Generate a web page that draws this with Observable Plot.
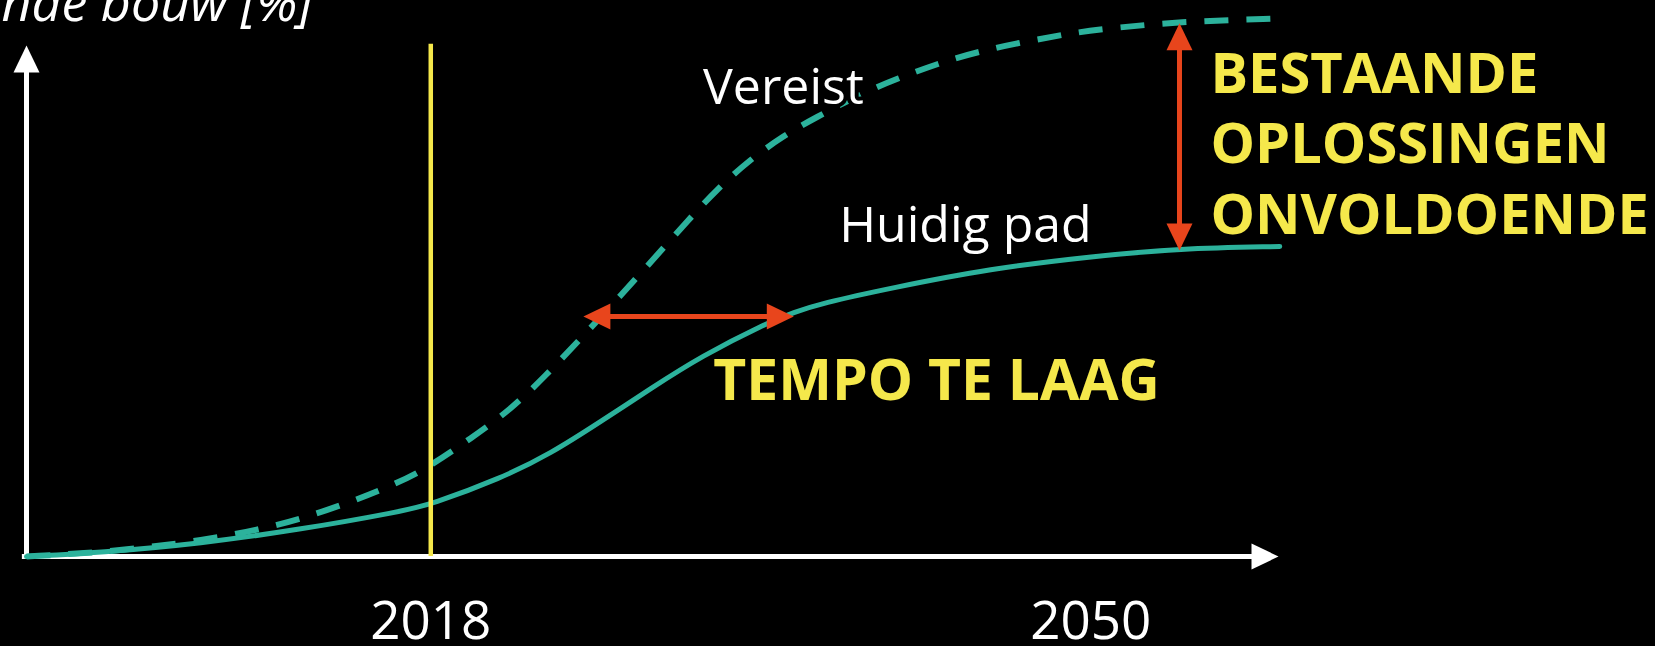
<!DOCTYPE html>
<html>
<head>
<meta charset="utf-8">
<script src="https://cdn.jsdelivr.net/npm/d3@7"></script>
<script src="https://cdn.jsdelivr.net/npm/@observablehq/plot@0.6"></script>
<style>
  html, body { margin: 0; padding: 0; background: #000; overflow: hidden; }
  #chart svg { display: block; }
</style>
</head>
<body>
<div id="chart"></div>
<script>
// ---- data ----
const huidigYears = [1998.4, 2002.0, 2006.85, 2011.7, 2016.55, 2018.0, 2021.39, 2023.82, 2026.24, 2028.67, 2031.09, 2034.34, 2035.6, 2036.91, 2040.3, 2045.15, 2050.0, 2054.27, 2059.16];
const huidigPct   = [0.0,    0.74,   2.42,    5.02,   8.36,    9.67,   14.5,    19.14,   25.09,   31.23,   37.17,   43.5,    45.35,  47.03,   49.9,   53.53,   55.76,  57.25,   57.62];

const vereistYears = [1998.4, 2002.0, 2006.85, 2011.7, 2016.55, 2018.0, 2019.94, 2021.88, 2023.58, 2025.27, 2027.21, 2028.91, 2030.46, 2031.92, 2033.42, 2035.12, 2036.57, 2038.99, 2040.64, 2042.58, 2044.57, 2046.61, 2048.69, 2050.34, 2054.27, 2059.16];
const vereistPct   = [0.0,    0.74,   2.79,    6.51,   13.75,   16.91,  21.93,   27.32,   33.64,   40.52,   48.51,   55.76,   62.45,   68.4,    73.61,   78.25,   81.41,   86.25,   88.85,   91.64,   93.87,   95.54,   97.03,   97.96,   99.44,   100.0];

const tickYears = [2018, 2050];
const currentYear = 2018;

const seriesLabels = ["Vereist", "Huidig pad"];
const gapLabelTempo = "TEMPO TE LAAG";
const gapLabelLevel = "BESTAANDE\nOPLOSSINGEN\nONVOLDOENDE";
const yTitle = "bestaande bouw [%]";

// gap arrows (data units)
const tempoGap = {y: 44.6, from: 2025.4, to: 2035.6};
const levelGap = {x: 2054.3, from: 56.9, to: 99.1};

// ---- build tables ----
const huidig = huidigYears.map((x, i) => ({x, y: huidigPct[i]}));
const vereist = vereistYears.map((x, i) => ({x, y: vereistPct[i]}));

const xAxisStart = 1998.2, xAxisTip = 2059.1, yAxisTip = 95.0, nowTop = 95.2;

const teal = "#2cb29c", yellow = "#f5e84b", red = "#e8451c";
const font = "'Open Sans', 'Noto Sans', sans-serif";

const arrowHead = {
  draw(context) {
    context.moveTo(0, 0);
    context.lineTo(13, 27);
    context.lineTo(-13, 27);
    context.closePath();
  }
};

const axisHeads = [
  {x: xAxisStart + 0.2, y: yAxisTip, rotate: 0},
  {x: xAxisTip, y: 0, rotate: 90}
];
const redHeads = [
  {x: tempoGap.from, y: tempoGap.y, rotate: -90},
  {x: tempoGap.to, y: tempoGap.y, rotate: 90},
  {x: levelGap.x, y: levelGap.to, rotate: 0},
  {x: levelGap.x, y: levelGap.from, rotate: 180}
];

const chart = Plot.plot({
  width: 1655,
  height: 646,
  marginTop: 0,
  marginLeft: 0,
  marginRight: 0,
  marginBottom: 90,
  style: {background: "#000", color: "#fff", fontFamily: font},
  x: {domain: [1998.4, 2059.1], range: [26, 1278], axis: null},
  y: {domain: [0, 100], range: [556, 18], axis: null},
  marks: [
    // axes with arrows
    Plot.ruleY([0], {x1: xAxisStart, x2: xAxisTip, stroke: "#fff", strokeWidth: 5, insetRight: 20}),
    Plot.ruleX([xAxisStart + 0.2], {y1: yAxisTip, y2: 0, stroke: "#fff", strokeWidth: 5, insetTop: 20, insetBottom: -2}),
    Plot.dot(axisHeads, {x: "x", y: "y", rotate: "rotate", symbol: arrowHead, fill: "#fff", stroke: "none"}),
    Plot.axisX({ticks: tickYears, tickFormat: d => String(d), tickSize: 0, tickPadding: 45, fontSize: 53, fill: "#fff", label: null, fontFamily: font}),
    // series
    Plot.line(huidig, {x: "x", y: "y", stroke: teal, strokeWidth: 5, curve: "basis"}),
    Plot.line(vereist, {x: "x", y: "y", stroke: teal, strokeWidth: 6, strokeDasharray: "24,18", strokeLinecap: "butt", curve: "basis"}),
    // current year
    Plot.ruleX([currentYear], {y1: nowTop, y2: 0, stroke: yellow, strokeWidth: 4.5}),
    // gap arrows
    Plot.ruleY([tempoGap.y], {x1: tempoGap.from, x2: tempoGap.to, stroke: red, strokeWidth: 5, insetLeft: 20, insetRight: 20}),
    Plot.ruleX([levelGap.x], {y1: levelGap.to, y2: levelGap.from, stroke: red, strokeWidth: 5, insetTop: 20, insetBottom: 20}),
    Plot.dot(redHeads, {x: "x", y: "y", rotate: "rotate", symbol: arrowHead, fill: red, stroke: "none"}),
    // labels
    Plot.text([seriesLabels[0]], {x: 2031.2, y: 84.2, text: d => d, textAnchor: "start", lineAnchor: "bottom", fill: "#fff", fontSize: 50, fontFamily: font, stroke: "#000", strokeWidth: 8, paintOrder: "stroke"}),
    Plot.text([seriesLabels[1]], {x: 2037.8, y: 58.4, text: d => d, textAnchor: "start", lineAnchor: "bottom", fill: "#fff", fontSize: 50, fontFamily: font}),
    Plot.text([gapLabelTempo], {x: 2031.7, y: 29.0, text: d => d, textAnchor: "start", lineAnchor: "bottom", fill: yellow, fontSize: 57, fontWeight: "bold", fontFamily: font}),
    Plot.text([gapLabelLevel], {x: 2055.8, y: 60.0, text: d => d, textAnchor: "start", lineAnchor: "bottom", lineHeight: 1.26, fill: yellow, fontSize: 56, fontWeight: "bold", fontFamily: font}),
    Plot.text([yTitle], {frameAnchor: "top-left", dx: 312, dy: 20, text: d => d, textAnchor: "end", lineAnchor: "bottom", fill: "#fff", fontSize: 52, fontStyle: "italic", fontFamily: font})
  ]
});

document.getElementById("chart").appendChild(chart);
</script>
</body>
</html>
